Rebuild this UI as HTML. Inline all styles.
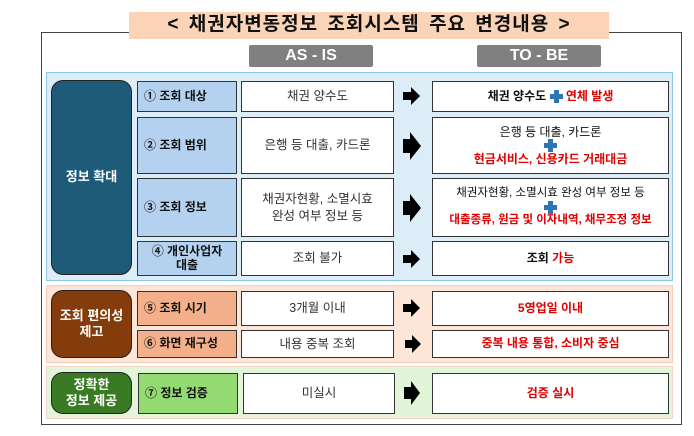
<!DOCTYPE html>
<html><head><meta charset="utf-8"><style>
body{margin:0;width:694px;height:436px;background:#fff;position:relative;overflow:hidden;font-family:"Liberation Sans","Noto Sans CJK KR",sans-serif;}
div{position:absolute;box-sizing:border-box;}
.c{display:flex;align-items:center;justify-content:center;text-align:center;line-height:1.3;}
.lab{border:1.5px solid #333;font-weight:bold;font-size:12px;color:#111;justify-content:flex-start;padding-left:6px;}
.as{background:#fff;border:1.5px solid #333;font-size:12.5px;color:#333;}
.to{background:#fff;border:1.5px solid #333;font-size:12px;font-weight:bold;color:#111;}
.r{color:#e00000;}
.big{border-radius:12px;color:#fff;font-weight:bold;font-size:13px;border:1.5px solid #222;}
.plus{display:inline-block;width:13px;height:13px;position:relative;vertical-align:-2px;}
.plus:before{content:"";position:absolute;left:4px;top:0;width:5px;height:13px;background:#2e75b6;}
.plus:after{content:"";position:absolute;left:0;top:4px;width:13px;height:5px;background:#2e75b6;}
</style></head><body>
<div style="left:41px;top:32px;width:641px;height:393px;border:1px solid #444;"></div>
<div class="c" style="left:129px;top:12px;width:480px;height:27px;background:#fbd3b6;font-size:19px;letter-spacing:1px;word-spacing:3px;font-weight:bold;color:#111;">&lt; 채권자변동정보 조회시스템 주요 변경내용 &gt;</div>
<div class="c" style="left:249px;top:45px;width:124px;height:22px;background:#808080;color:#fff;font-weight:bold;font-size:16px;border-radius:2px;">AS - IS</div>
<div class="c" style="left:477px;top:45px;width:124px;height:22px;background:#808080;color:#fff;font-weight:bold;font-size:16px;border-radius:2px;">TO - BE</div>

<div style="left:46px;top:72px;width:627px;height:209px;background:#dcedf8;border:1.5px solid #8cc9e6;"></div>
<div style="left:46px;top:285px;width:627px;height:78px;background:#fde5d8;border:1.5px solid #f7cdb5;"></div>
<div style="left:46px;top:366px;width:627px;height:53px;background:#e3f5d9;border:1.5px solid #f2d6c3;"></div>

<div class="c big" style="left:51px;top:80px;width:81px;height:195px;background:#1d5b78;">정보 확대</div>
<div class="c big" style="left:51px;top:290px;width:81px;height:68px;background:#843c0c;line-height:1.2;">조회 편의성<br>제고</div>
<div class="c big" style="left:51px;top:372px;width:81px;height:42px;background:#3a7a24;line-height:1.2;">정확한<br>정보 제공</div>

<div class="c lab" style="left:137px;top:81px;width:100px;height:31px;background:#b4d2f0;">① 조회 대상</div>
<div class="c lab" style="left:137px;top:117px;width:100px;height:57px;background:#b4d2f0;">② 조회 범위</div>
<div class="c lab" style="left:137px;top:178px;width:100px;height:59px;background:#b4d2f0;">③ 조회 정보</div>
<div class="c lab" style="left:137px;top:241px;width:100px;height:35px;background:#b4d2f0;justify-content:center;padding-left:0;line-height:1.15;">④ 개인사업자<br>대출</div>
<div class="c lab" style="left:137px;top:291px;width:100px;height:35px;background:#f4b08a;">⑤ 조회 시기</div>
<div class="c lab" style="left:137px;top:330px;width:100px;height:28px;background:#f4b08a;">⑥ 화면 재구성</div>
<div class="c lab" style="left:138px;top:373px;width:100px;height:41px;background:#93da73;">⑦ 정보 검증</div>

<div class="c as" style="left:241px;top:81px;width:153px;height:31px;">채권 양수도</div>
<div class="c as" style="left:241px;top:117px;width:153px;height:57px;">은행 등 대출, 카드론</div>
<div class="c as" style="left:241px;top:178px;width:153px;height:59px;">채권자현황, 소멸시효<br>완성 여부 정보 등</div>
<div class="c as" style="left:241px;top:241px;width:153px;height:35px;">조회 불가</div>
<div class="c as" style="left:241px;top:291px;width:153px;height:35px;">3개월 이내</div>
<div class="c as" style="left:241px;top:330px;width:153px;height:28px;">내용 중복 조회</div>
<div class="c as" style="left:243px;top:373px;width:152px;height:41px;">미실시</div>

<div class="c to" style="left:432px;top:81px;width:237px;height:31px;">채권 양수도&nbsp;<span class="plus"></span>&nbsp;<span class="r">연체 발생</span></div>
<div class="c to" style="left:432px;top:117px;width:237px;height:57px;flex-direction:column;line-height:1.2;"><span style="font-weight:normal">은행 등 대출, 카드론</span><span class="plus"></span><span class="r">현금서비스, 신용카드 거래대금</span></div>
<div class="c to" style="left:432px;top:178px;width:237px;height:59px;flex-direction:column;line-height:1.2;font-size:11.5px;"><span style="font-weight:normal">채권자현황, 소멸시효 완성 여부 정보 등</span><span class="plus"></span><span class="r">대출종류, 원금 및 이자내역, 채무조정 정보</span></div>
<div class="c to" style="left:432px;top:241px;width:237px;height:35px;">조회&nbsp;<span class="r">가능</span></div>
<div class="c to r" style="left:432px;top:291px;width:237px;height:35px;">5영업일 이내</div>
<div class="c to r" style="left:432px;top:330px;width:237px;height:28px;">중복 내용 통합, 소비자 중심</div>
<div class="c to r" style="left:432px;top:373px;width:237px;height:41px;">검증 실시</div>

<svg width="694" height="436" style="position:absolute;left:0;top:0">
<g fill="#000">
<polygon points="403,92 411,92 411,87 420,96 411,105 411,100 403,100"/>
<polygon points="403,139 410,139 410,132 421,146 410,160 410,153 403,153"/>
<polygon points="403,201 410,201 410,194 421,208 410,222 410,215 403,215"/>
<polygon points="403,255 411,255 411,250 420,259 411,268 411,263 403,263"/>
<polygon points="403,304 411,304 411,299 420,308 411,317 411,312 403,312"/>
<polygon points="405,340 412,340 412,335 421,344 412,353 412,348 405,348"/>
<polygon points="404,387 411,387 411,381 420,393 411,405 411,399 404,399"/>
</g></svg>
</body></html>
